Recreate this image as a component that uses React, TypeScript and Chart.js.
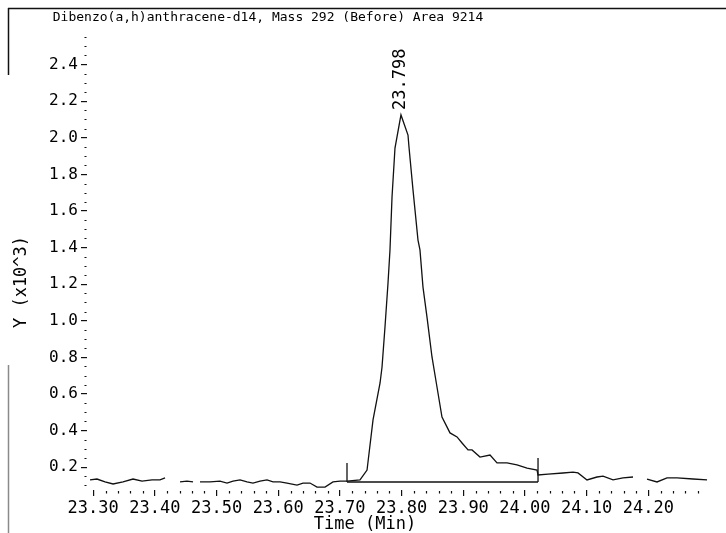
import React, { useEffect, useRef } from "react";
import { Chart, registerables } from "chart.js";

Chart.register(...registerables);

const TITLE = "Dibenzo(a,h)anthracene-d14, Mass 292 (Before) Area 9214";
const X_TITLE = "Time (Min)";
const Y_TITLE = "Y (x10^3)";
const PEAK_LABEL = "23.798";

// Retention time (min)
const TIMES: number[] = [
  23.2949, 23.3062, 23.3192, 23.3322, 23.3484, 23.3646, 23.3792, 23.3954, 23.4084, 23.4165,
  23.428, 23.4408, 23.4521, 23.4619, 23.467, 23.4732, 23.4894, 23.5056, 23.517, 23.5267,
  23.5381, 23.5494, 23.5591, 23.5705, 23.5818, 23.5916, 23.6029, 23.6143, 23.6305, 23.6402,
  23.6515, 23.6629, 23.6759, 23.6888, 23.7002, 23.7115, 23.7326, 23.744, 23.7537, 23.7651,
  23.7683, 23.7731, 23.778, 23.7812, 23.7845, 23.7893, 23.799, 23.8104, 23.812, 23.8185,
  23.8266, 23.8298, 23.8347, 23.8412, 23.8493, 23.8574, 23.8655, 23.8785, 23.8899, 23.898,
  23.9077, 23.9142, 23.9271, 23.9434, 23.9547, 23.9709, 23.9871, 24.0034, 24.0196, 24.0212,
  24.0374, 24.0617, 24.0779, 24.086, 24.1006, 24.1168, 24.1266, 24.1428, 24.159, 24.1752,
  24.187, 24.1979, 24.2141, 24.2303, 24.2466, 24.2725, 24.2952,
];

// Abundance (x10^3); null = gap in the trace
const SIGNAL: (number | null)[] = [
  0.13, 0.135, 0.119, 0.108, 0.119, 0.135, 0.124, 0.13, 0.13, 0.141,
  null, 0.119, 0.124, 0.119, null, 0.119, 0.119, 0.124, 0.113, 0.124,
  0.13, 0.119, 0.113, 0.124, 0.13, 0.119, 0.119, 0.113, 0.102, 0.113,
  0.113, 0.091, 0.091, 0.119, 0.124, 0.124, 0.13, 0.184, 0.458, 0.66,
  0.747, 0.966, 1.206, 1.387, 1.676, 1.944, 2.125, 2.015, 1.95, 1.715,
  1.441, 1.387, 1.184, 1.02, 0.802, 0.638, 0.474, 0.387, 0.365, 0.332,
  0.294, 0.294, 0.255, 0.266, 0.223, 0.223, 0.212, 0.195, 0.184, 0.157,
  0.162, 0.168, 0.173, 0.168, 0.13, 0.146, 0.151, 0.13, 0.141, 0.146,
  null, 0.135, 0.119, 0.141, 0.141, 0.135, 0.13,
];

// Integration baseline and its start / end markers
const BASE_T = [23.7115, 24.0212];
const BASE_Y = [0.119, 0.119];
const START_T = [23.7115, 23.7115];
const START_Y = [0.119, 0.223];
const END_T = [24.0212, 24.0212];
const END_Y = [0.119, 0.25];

const X_TICKS = [23.3, 23.4, 23.5, 23.6, 23.7, 23.8, 23.9, 24.0, 24.1, 24.2];
const Y_TICKS = [0.2, 0.4, 0.6, 0.8, 1.0, 1.2, 1.4, 1.6, 1.8, 2.0, 2.2, 2.4];

const X_MIN = 23.29;
const X_MAX = 24.3;
const Y_MIN = 0.075;
const Y_MAX = 2.6;

const MONO = '"DejaVu Sans Mono", monospace';
const INK = "#111";

const decorPlugin = {
  id: "decor",
  afterDraw(chart: any) {
    const { ctx, scales, chartArea } = chart;
    const xs = scales.x;
    const ys = scales.y;
    ctx.save();

    // scanned page frame
    ctx.strokeStyle = INK;
    ctx.lineWidth = 1.5;
    ctx.beginPath();
    ctx.moveTo(8, 8.5);
    ctx.lineTo(726, 8.5);
    ctx.moveTo(8.5, 8);
    ctx.lineTo(8.5, 75);
    ctx.stroke();
    ctx.strokeStyle = "#8a8a8a";
    ctx.beginPath();
    ctx.moveTo(8.5, 365);
    ctx.lineTo(8.5, 533);
    ctx.stroke();

    // minor ticks
    ctx.strokeStyle = INK;
    ctx.lineWidth = 1.2;
    ctx.beginPath();
    for (let i = 0; i <= 49; i++) {
      const v = 23.3 + i * 0.02;
      if (i % 5 === 0) continue;
      const px = Math.round(xs.getPixelForValue(v)) + 0.5;
      ctx.moveTo(px, chartArea.bottom + 1);
      ctx.lineTo(px, chartArea.bottom + 3.5);
    }
    for (let i = 0; i <= 50; i++) {
      const v = 0.1 + i * 0.05;
      if (v > Y_MAX) break;
      if (Math.abs(v / 0.2 - Math.round(v / 0.2)) < 1e-6) continue;
      const py = Math.round(ys.getPixelForValue(v)) + 0.5;
      ctx.moveTo(chartArea.left - 2.5, py);
      ctx.lineTo(chartArea.left - 0.5, py);
    }
    ctx.stroke();

    ctx.fillStyle = "#000";
    // title
    ctx.font = `13px ${MONO}`;
    ctx.textAlign = "center";
    ctx.textBaseline = "middle";
    ctx.fillText(TITLE, 268, 18);

    // x axis title
    ctx.font = `17px ${MONO}`;
    ctx.fillText(X_TITLE, 365, 525);

    // y axis title
    ctx.save();
    ctx.translate(22, 282);
    ctx.rotate(-Math.PI / 2);
    ctx.fillText(Y_TITLE, 0, 0);
    ctx.restore();

    // peak label
    let best = -1;
    let bi = 0;
    SIGNAL.forEach((v, i) => {
      if (v !== null && v > best) {
        best = v;
        bi = i;
      }
    });
    const px = xs.getPixelForValue(TIMES[bi]);
    const py = ys.getPixelForValue(best);
    ctx.save();
    ctx.translate(px, py - 5);
    ctx.rotate(-Math.PI / 2);
    ctx.textAlign = "left";
    ctx.textBaseline = "middle";
    ctx.font = `17px ${MONO}`;
    ctx.fillText(PEAK_LABEL, 0, 0);
    ctx.restore();

    ctx.restore();
  },
};

export default function App() {
  const ref = useRef<HTMLCanvasElement | null>(null);

  useEffect(() => {
    if (!ref.current) return;
    const lineDs = (xs: number[], ys: (number | null)[], width: number) => ({
      data: xs.map((t, i) => ({ x: t, y: ys[i] })),
      borderColor: INK,
      borderWidth: width,
      pointRadius: 0,
      tension: 0,
      spanGaps: false,
      fill: false,
    });
    const chart = new Chart(ref.current, {
      type: "line",
      data: {
        datasets: [
          lineDs(TIMES, SIGNAL, 1.3),
          lineDs(BASE_T, BASE_Y, 1.6),
          lineDs(START_T, START_Y, 1.3),
          lineDs(END_T, END_Y, 1.3),
        ] as any,
      },
      options: {
        animation: false,
        responsive: false,
        maintainAspectRatio: false,
        layout: { padding: { left: 0, right: 16, top: 28, bottom: 0 } },
        plugins: {
          legend: { display: false },
          tooltip: { enabled: false },
          title: { display: false },
        },
        scales: {
          x: {
            type: "linear",
            min: X_MIN,
            max: X_MAX,
            afterBuildTicks: (s: any) => {
              s.ticks = X_TICKS.map((v) => ({ value: v }));
            },
            afterFit: (s: any) => {
              s.height = 43;
            },
            border: { display: false },
            grid: { drawOnChartArea: false, tickLength: 6, color: INK, lineWidth: 1.2 },
            ticks: {
              font: { family: MONO, size: 17 },
              color: "#000",
              padding: 2,
              maxRotation: 0,
              autoSkip: false,
              callback: (v: any) => Number(v).toFixed(2),
            },
          },
          y: {
            type: "linear",
            min: Y_MIN,
            max: Y_MAX,
            afterBuildTicks: (s: any) => {
              s.ticks = Y_TICKS.map((v) => ({ value: v }));
            },
            afterFit: (s: any) => {
              s.width = 87;
            },
            border: { display: false },
            grid: { drawOnChartArea: false, tickLength: 6, color: INK, lineWidth: 1.2 },
            ticks: {
              font: { family: MONO, size: 16 },
              color: "#000",
              padding: 3,
              autoSkip: false,
              callback: (v: any) => Number(v).toFixed(1),
            },
          },
        },
      } as any,
      plugins: [decorPlugin],
    });
    return () => chart.destroy();
  }, []);

  return (
    <div style={{ position: "fixed", left: 0, top: 0, width: 726, height: 533, background: "#fff" }}>
      <canvas ref={ref} width={726} height={533} style={{ width: 726, height: 533, display: "block" }} />
    </div>
  );
}
